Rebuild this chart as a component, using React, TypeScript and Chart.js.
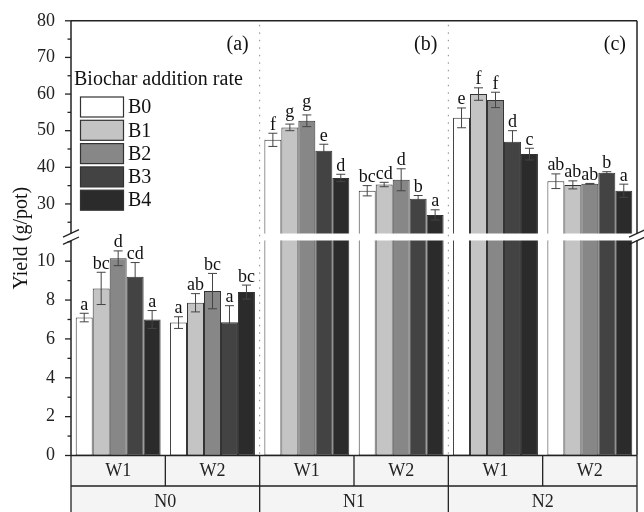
import React, { useEffect, useRef } from 'react';
import { Chart, registerables } from 'chart.js';

Chart.register(...registerables);

// ---------------- data ----------------
const wLabels = ['W1', 'W2', 'W1', 'W2', 'W1', 'W2'];
const nLabels = ['N0', 'N1', 'N2'];
const panelLabels = ['(a)', '(b)', '(c)'];
const seriesNames = ['B0', 'B1', 'B2', 'B3', 'B4'];
const seriesColors = ['#ffffff', '#c4c4c4', '#878787', '#434343', '#2b2b2b'];

const B0 = [7.1, 6.84, 47.5, 33.6, 53.5, 36.2];
const B1 = [8.6, 7.86, 50.9, 35.3, 60.0, 35.2];
const B2 = [10.15, 8.46, 52.7, 36.6, 58.4, 35.5];
const B3 = [9.2, 6.86, 44.5, 31.4, 47.0, 38.5];
const B4 = [7.0, 8.41, 37.1, 27.0, 43.6, 33.6];

const B0err = [0.22, 0.3, 1.8, 1.4, 2.7, 2.0];
const B1err = [0.83, 0.47, 0.9, 0.6, 1.7, 1.1];
const B2err = [0.38, 0.91, 1.6, 3.0, 2.1, 0.1];
const B3err = [0.73, 0.85, 1.8, 0.9, 3.0, 0.3];
const B4err = [0.46, 0.36, 1.0, 1.4, 1.6, 1.8];

const B0sig = ['a', 'a', 'f', 'bc', 'e', 'ab'];
const B1sig = ['bc', 'ab', 'g', 'cd', 'f', 'ab'];
const B2sig = ['d', 'bc', 'g', 'd', 'f', 'ab'];
const B3sig = ['cd', 'a', 'e', 'b', 'd', 'b'];
const B4sig = ['a', 'bc', 'd', 'a', 'c', 'a'];

const seriesValues = [B0, B1, B2, B3, B4];
const seriesErrors = [B0err, B1err, B2err, B3err, B4err];
const seriesLetters = [B0sig, B1sig, B2sig, B3sig, B4sig];

// broken axis: lower segment and upper segment
const lowerMin = 0;
const lowerMax = 11.25;
const upperMin = 21;
const upperMax = 80;
const lowerMinorTicks = [1, 3, 5, 7, 9, 11];
const upperMinorTicks = [25, 35, 45, 55, 65, 75];

const FONT = "'Liberation Serif', 'Times New Roman', serif";
const INK = '#222222';
const GAP = 3.5;

function line(ctx: CanvasRenderingContext2D, x1: number, y1: number, x2: number, y2: number) {
  ctx.beginPath();
  ctx.moveTo(x1, y1);
  ctx.lineTo(x2, y2);
  ctx.stroke();
}

const clipPlugin = {
  id: 'brokenClip',
  beforeDatasetDraw(chart: any, args: any) {
    const ds = chart.data.datasets[args.index];
    const s = chart.scales[ds.yAxisID];
    const ca = chart.chartArea;
    const ctx = chart.ctx;
    ctx.save();
    ctx.beginPath();
    if (ds.yAxisID === 'yHigh') ctx.rect(ca.left, s.top, ca.right - ca.left, s.bottom - GAP - s.top);
    else ctx.rect(ca.left, s.top + GAP, ca.right - ca.left, s.bottom - s.top - GAP);
    ctx.clip();
  },
  afterDatasetDraw(chart: any) {
    chart.ctx.restore();
  },
};

function groupBoundaries(chart: any) {
  const x = chart.scales.x;
  const n = wLabels.length;
  const per = n / nLabels.length;
  const res: { px: number; group: boolean }[] = [];
  for (let j = 0; j < n - 1; j++) {
    const px = (x.getPixelForValue(j) + x.getPixelForValue(j + 1)) / 2;
    res.push({ px, group: (j + 1) % per === 0 });
  }
  return res;
}

const decorPlugin = {
  id: 'decor',
  beforeDraw(chart: any) {
    const ctx = chart.ctx;
    const ca = chart.chartArea;
    const x = chart.scales.x;
    const x2 = chart.scales.x2;
    ctx.save();
    ctx.fillStyle = '#f4f4f4';
    ctx.fillRect(ca.left, x.top, ca.right - ca.left, x2.bottom + 20 - x.top);
    ctx.strokeStyle = INK;
    ctx.lineWidth = 1.3;
    line(ctx, ca.left, x.bottom, ca.right, x.bottom);
    line(ctx, ca.left, x.top, ca.left, x2.bottom + 20);
    line(ctx, ca.right, x.top, ca.right, x2.bottom + 20);
    for (const b of groupBoundaries(chart)) {
      line(ctx, b.px, x.top, b.px, b.group ? x2.bottom + 20 : x.bottom);
    }
    ctx.restore();
  },
  afterDatasetsDraw(chart: any) {
    const ctx = chart.ctx;
    ctx.save();
    for (let b = 0; b < seriesValues.length; b++) {
      for (let j = 0; j < wLabels.length; j++) {
        const v = seriesValues[b][j];
        const e = seriesErrors[b][j];
        const upper = v > lowerMax;
        const meta = chart.getDatasetMeta(upper ? b + seriesValues.length : b);
        const el = meta.data[j];
        const s = chart.scales[upper ? 'yHigh' : 'yLow'];
        const cx = el.x;
        const yt = s.getPixelForValue(v + e);
        const yb = s.getPixelForValue(v - e);
        ctx.strokeStyle = '#444444';
        ctx.lineWidth = 1;
        line(ctx, cx, yt, cx, yb);
        line(ctx, cx - 4.5, yt, cx + 4.5, yt);
        line(ctx, cx - 4.5, yb, cx + 4.5, yb);
        ctx.font = `18px ${FONT}`;
        ctx.fillStyle = '#111111';
        ctx.textAlign = 'center';
        ctx.textBaseline = 'alphabetic';
        const txt = seriesLetters[b][j];
        const m = ctx.measureText(txt);
        const desc = Math.max(0, m.actualBoundingBoxDescent || 0);
        ctx.fillText(txt, cx, yt - 3.5 - desc);
      }
    }
    ctx.restore();
  },
  afterDraw(chart: any) {
    const ctx = chart.ctx;
    const ca = chart.chartArea;
    const yHigh = chart.scales.yHigh;
    const yLow = chart.scales.yLow;
    const hiEnd = yHigh.bottom - GAP;
    const loStart = yLow.top + GAP;
    ctx.save();
    // dotted group dividers
    ctx.strokeStyle = '#8a8a8a';
    ctx.lineWidth = 1;
    ctx.setLineDash([1.5, 6]);
    for (const b of groupBoundaries(chart)) {
      if (b.group) line(ctx, b.px, ca.top + 4, b.px, ca.bottom);
    }
    ctx.setLineDash([]);
    // frame
    ctx.strokeStyle = INK;
    ctx.lineWidth = 1.5;
    line(ctx, ca.left, ca.top, ca.right, ca.top);
    line(ctx, ca.left, ca.bottom, ca.right, ca.bottom);
    for (const xx of [ca.left, ca.right]) {
      line(ctx, xx, ca.top, xx, hiEnd);
      line(ctx, xx, loStart, xx, ca.bottom);
      ctx.lineWidth = 1.3;
      line(ctx, xx - 8, hiEnd + 3.7, xx + 8, hiEnd - 3.7);
      line(ctx, xx - 8, loStart + 4, xx + 8, loStart - 3.4);
      ctx.lineWidth = 1.5;
    }
    // y ticks
    ctx.lineWidth = 1.3;
    for (const s of [yHigh, yLow]) {
      for (const t of s.ticks) {
        const py = s.getPixelForValue(t.value);
        line(ctx, ca.left - 6, py, ca.left, py);
      }
    }
    for (const v of upperMinorTicks) {
      const py = yHigh.getPixelForValue(v);
      if (py < hiEnd) line(ctx, ca.left - 3.5, py, ca.left, py);
    }
    for (const v of lowerMinorTicks) {
      const py = yLow.getPixelForValue(v);
      if (py > loStart) line(ctx, ca.left - 3.5, py, ca.left, py);
    }
    // panel labels
    const bounds = groupBoundaries(chart).filter((b) => b.group).map((b) => b.px);
    bounds.push(ca.right);
    ctx.fillStyle = '#111111';
    ctx.font = `20px ${FONT}`;
    ctx.textAlign = 'right';
    ctx.textBaseline = 'alphabetic';
    panelLabels.forEach((p, i) => ctx.fillText(p, bounds[i] - 11, 50));
    // legend
    ctx.textAlign = 'left';
    ctx.fillText('Biochar addition rate', ca.left + 3, 85);
    for (let i = 0; i < seriesNames.length; i++) {
      const by = 97 + 23.3 * i;
      ctx.fillStyle = seriesColors[i];
      ctx.fillRect(ca.left + 9.5, by, 43, 20);
      ctx.strokeStyle = '#333333';
      ctx.lineWidth = 1.2;
      ctx.strokeRect(ca.left + 9.5, by, 43, 20);
      ctx.fillStyle = '#111111';
      ctx.textBaseline = 'middle';
      ctx.fillText(seriesNames[i], ca.left + 57, by + 11);
    }
    // y title
    ctx.translate(22, (ca.top + ca.bottom) / 2);
    ctx.rotate(-Math.PI / 2);
    ctx.textAlign = 'center';
    ctx.textBaseline = 'middle';
    ctx.font = `20px ${FONT}`;
    ctx.fillStyle = '#111111';
    ctx.fillText('Yield (g/pot)', 0, 0);
    ctx.restore();
  },
};

export default function App() {
  const ref = useRef<HTMLCanvasElement | null>(null);
  useEffect(() => {
    if (!ref.current) return;
    Chart.defaults.font.family = FONT;
    const common = {
      borderColor: '#333333',
      borderWidth: 1,
      borderSkipped: false,
      categoryPercentage: 0.9,
      barPercentage: 1,
      xAxisID: 'x',
    };
    const lower = seriesValues.map((vals, i) => ({
      ...common,
      label: seriesNames[i],
      data: vals,
      backgroundColor: seriesColors[i],
      yAxisID: 'yLow',
      stack: 's' + i,
    }));
    const upper = seriesValues.map((vals, i) => ({
      ...common,
      label: seriesNames[i] + ' (upper)',
      data: vals.map((v) => (v > lowerMax ? v : null)),
      backgroundColor: seriesColors[i],
      yAxisID: 'yHigh',
      stack: 's' + i,
    }));
    const chart = new Chart(ref.current, {
      type: 'bar',
      data: { labels: wLabels, datasets: [...lower, ...upper] as any },
      options: {
        animation: false,
        responsive: false,
        events: [],
        layout: { padding: { left: 0, top: 20, right: 7, bottom: 0 } },
        plugins: { legend: { display: false }, tooltip: { enabled: false } },
        scales: {
          x: {
            type: 'category',
            position: 'bottom',
            weight: 1,
            offset: true,
            grid: { display: false, drawTicks: false },
            border: { display: false },
            ticks: { padding: 4.5, font: { size: 18 }, color: INK, maxRotation: 0, autoSkip: false },
            afterFit: (s: any) => { s.height = 30.5; },
          },
          x2: {
            type: 'category',
            labels: nLabels,
            position: 'bottom',
            weight: 2,
            offset: true,
            grid: { display: false, drawTicks: false },
            border: { display: false },
            ticks: { padding: 5, font: { size: 18 }, color: INK, maxRotation: 0, autoSkip: false },
            afterFit: (s: any) => { s.height = 26; },
          },
          yHigh: {
            type: 'linear',
            position: 'left',
            stack: 'ybreak',
            stackWeight: 216.5,
            weight: 1,
            min: upperMin,
            max: upperMax,
            stacked: false,
            grid: { display: false, drawTicks: true, tickLength: 6 },
            border: { display: false },
            ticks: { stepSize: 10, includeBounds: false, autoSkip: false, padding: 10, font: { size: 18 }, color: INK },
            afterFit: (s: any) => { s.width = 71; },
          },
          yLow: {
            type: 'linear',
            position: 'left',
            stack: 'ybreak',
            stackWeight: 219,
            weight: 0,
            min: lowerMin,
            max: lowerMax,
            stacked: false,
            grid: { display: false, drawTicks: true, tickLength: 6 },
            border: { display: false },
            ticks: { stepSize: 2, includeBounds: false, autoSkip: false, padding: 10, font: { size: 18 }, color: INK },
            afterFit: (s: any) => { s.width = 71; },
          },
        } as any,
      },
      plugins: [clipPlugin, decorPlugin],
    });
    return () => chart.destroy();
  }, []);
  return (
    <div style={{ position: 'fixed', left: 0, top: 0, width: 644, height: 512, background: '#ffffff' }}>
      <canvas ref={ref} width={644} height={512} style={{ display: 'block' }} />
    </div>
  );
}
